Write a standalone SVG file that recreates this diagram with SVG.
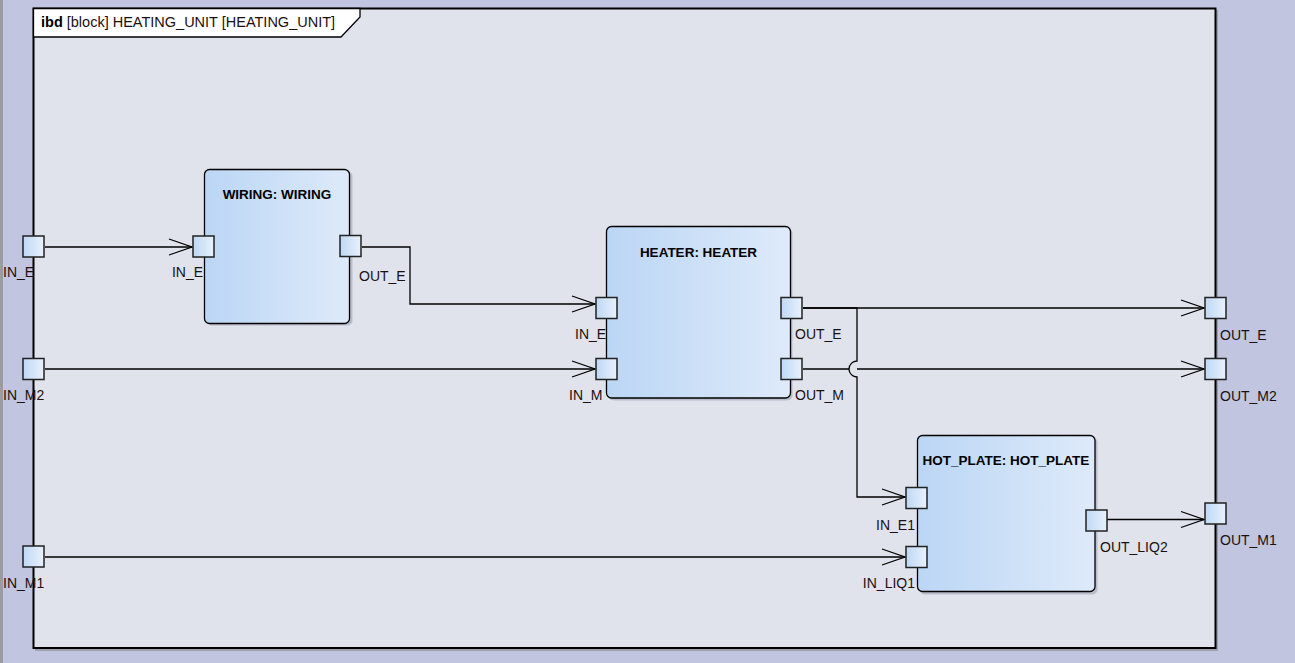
<svg xmlns="http://www.w3.org/2000/svg" width="1295" height="663" viewBox="0 0 1295 663">
<defs>
<linearGradient id="gBlock" x1="0" y1="0" x2="1" y2="0">
<stop offset="0" stop-color="#BBD6F5"/>
<stop offset="1" stop-color="#DEEAFA"/>
</linearGradient>
<linearGradient id="gPort" x1="0" y1="0" x2="1" y2="0">
<stop offset="0" stop-color="#BFD8F5"/>
<stop offset="1" stop-color="#E8F1FC"/>
</linearGradient>
<marker id="arr" markerUnits="userSpaceOnUse" markerWidth="30" markerHeight="20" viewBox="-25 -10 30 20" refX="0" refY="0" orient="auto">
<path d="M-23,-8 L0,0 L-23,8" fill="none" stroke="#000" stroke-width="1.3"/>
</marker>
</defs>
<style>
text{font-family:"Liberation Sans",Arial,sans-serif;fill:#1a1010}
.lbl{font-size:14px}
.ttl{font-size:13.5px;font-weight:bold;text-anchor:middle;fill:#000}
.blk{fill:url(#gBlock);stroke:#000;stroke-width:1.3}
.shd{fill:#B9BDCB}
.port{fill:url(#gPort);stroke:#222;stroke-width:1.5}
.con{fill:none;stroke:#000;stroke-width:1.3}
.end{text-anchor:end}
</style>
<rect x="0" y="0" width="1295" height="663" fill="#C1C5DF"/>
<rect x="0" y="0" width="3" height="663" fill="#9A9BA3"/>
<g id="frame">
<rect x="35" y="10" width="1183" height="641" fill="#9EA1AE"/>
<rect x="33.5" y="8.5" width="1182" height="639.5" fill="#E0E3EC" stroke="#000" stroke-width="2"/>
<path d="M33.5,8.5 H360 V17 L341,37 H33.5 Z" fill="#FFFFFF" stroke="#000" stroke-width="1.3"/>
<text x="41" y="27" style="font-size:14.5px"><tspan font-weight="bold" fill="#000">ibd</tspan> [block] HEATING_UNIT [HEATING_UNIT]</text>
</g>
<g id="connectors">
<path class="con" d="M45,247 H192" marker-end="url(#arr)"/>
<path class="con" d="M362,247 H410 V304 H595" marker-end="url(#arr)"/>
<path class="con" d="M45,369 H595" marker-end="url(#arr)"/>
<path class="con" d="M803,308 H1204" marker-end="url(#arr)"/>
<path class="con" d="M803,308 H857 V361 A8,8 0 0 0 857,377 V497 H905" marker-end="url(#arr)"/>
<path class="con" d="M803,369 H849"/>
<path class="con" d="M857,369 H1204" marker-end="url(#arr)"/>
<path class="con" d="M45,557 H905" marker-end="url(#arr)"/>
<path class="con" d="M1107,519.5 H1204" marker-end="url(#arr)"/>
</g>
<g id="frame-ports">
<rect class="port" x="23" y="236" width="21" height="21"/>
<text class="lbl" x="3" y="277">IN_E</text>
<rect class="port" x="23" y="358.5" width="21" height="21"/>
<text class="lbl" x="3" y="400">IN_M2</text>
<rect class="port" x="23" y="546" width="21" height="21"/>
<text class="lbl" x="3" y="588">IN_M1</text>
<rect class="port" x="1205" y="297.5" width="21" height="21"/>
<text class="lbl" x="1220" y="340">OUT_E</text>
<rect class="port" x="1205" y="358.5" width="21" height="21"/>
<text class="lbl" x="1220" y="401">OUT_M2</text>
<rect class="port" x="1205" y="503" width="21" height="21"/>
<text class="lbl" x="1220" y="545">OUT_M1</text>
</g>
<g id="wiring">
<rect class="shd" x="206.5" y="171.5" width="146" height="154" rx="5"/>
<rect class="blk" x="204.5" y="169.5" width="145" height="154" rx="5"/>
<text class="ttl" x="277" y="199">WIRING: WIRING</text>
<rect class="port" x="193" y="236" width="21" height="21"/>
<text class="lbl end" x="203" y="277">IN_E</text>
<rect class="port" x="340" y="235.5" width="21" height="21"/>
<text class="lbl" x="359" y="281">OUT_E</text>
</g>
<g id="heater">
<text class="lbl" x="575" y="339">IN_E</text>
<text class="lbl" x="569" y="400">IN_M</text>
<rect class="shd" x="608.5" y="228.5" width="184" height="172" rx="5"/>
<rect class="blk" x="606.5" y="226.5" width="184" height="171.5" rx="5"/>
<text class="ttl" x="698.5" y="257">HEATER: HEATER</text>
<rect class="port" x="596" y="297.5" width="21" height="21"/>
<rect class="port" x="596" y="358.5" width="21" height="21"/>
<rect class="port" x="781" y="297.5" width="21" height="21"/>
<rect class="port" x="781" y="358.5" width="21" height="21"/>
<text class="lbl" x="795" y="339">OUT_E</text>
<text class="lbl" x="795" y="400">OUT_M</text>
</g>
<g id="hot_plate">
<rect class="shd" x="919.5" y="437.5" width="178" height="157" rx="5"/>
<rect class="blk" x="917.5" y="435.5" width="177.5" height="156" rx="5"/>
<text class="ttl" x="1006" y="465">HOT_PLATE: HOT_PLATE</text>
<rect class="port" x="906" y="487.5" width="21" height="21"/>
<text class="lbl end" x="915" y="530">IN_E1</text>
<rect class="port" x="906" y="546.5" width="21" height="21"/>
<text class="lbl end" x="915" y="588">IN_LIQ1</text>
<rect class="port" x="1086" y="510" width="21" height="21"/>
<text class="lbl" x="1100" y="552">OUT_LIQ2</text>
</g>
</svg>
